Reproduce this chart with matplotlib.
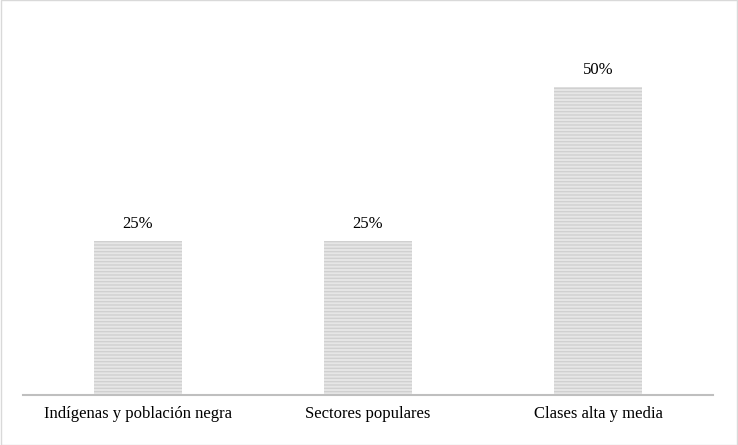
import matplotlib
matplotlib.use('Agg')
import matplotlib.pyplot as plt
import numpy as np

categorias = ['Indígenas y población negra', 'Sectores populares', 'Clases alta y media']
valores = [25, 25, 50]

plt.rcParams['font.family'] = ['Liberation Serif', 'DejaVu Serif']
plt.rcParams['hatch.color'] = '#b5b5b5'
plt.rcParams['hatch.linewidth'] = 1.0

fig = plt.figure(figsize=(7.38, 4.45), dpi=100)
ax = fig.add_axes([23/738, 50/445, 690/738, 385/445])
x = np.arange(len(categorias))
bars = ax.bar(x, valores, width=0.38, color='#e6e6e6', hatch='-----', edgecolor='#d0d0d0', linewidth=0)
for xi, v in zip(x, valores):
    ax.text(xi, v + 1.5, f'{v}%', ha='center', va='bottom', fontsize=12)
ax.set_xlim(-0.5, 2.5)
ax.set_ylim(0, 62.5)
ax.set_xticks(x)
ax.set_xticklabels(categorias, fontsize=12)
ax.tick_params(axis='x', length=0, pad=8)
ax.set_yticks([])
for s in ['top', 'right', 'left']:
    ax.spines[s].set_visible(False)
ax.spines['bottom'].set_color('#bfbfbf')
ax.spines['bottom'].set_linewidth(1.5)

fig.patches.append(plt.Rectangle((0.001, 0.001), 0.998, 0.998, transform=fig.transFigure,
                                 fill=False, edgecolor='#d9d9d9', linewidth=1))
fig.savefig('out.png', dpi=100)
